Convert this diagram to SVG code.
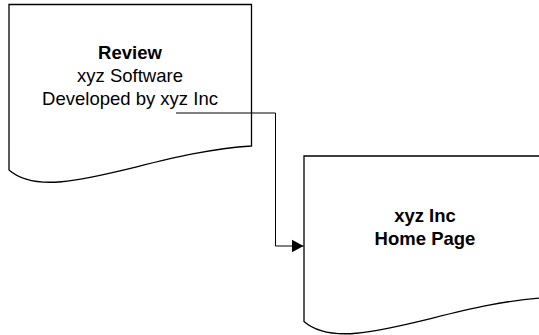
<svg xmlns="http://www.w3.org/2000/svg" width="539" height="335" viewBox="0 0 539 335">
<style>
.doc{fill:#fff;stroke:#000;stroke-width:1.3}
.t{font-family:"Liberation Sans",Arial,sans-serif;font-size:18.5px;fill:#000;text-anchor:middle}
.b{font-weight:bold}
.conn{fill:none;stroke:#000;stroke-width:1}
</style>
<defs>
<marker id="arr" markerWidth="13" markerHeight="14" refX="12" refY="7" orient="auto" markerUnits="userSpaceOnUse">
<path d="M0,0.5 L12,7 L0,13.5 Z" fill="#000"/>
</marker>
</defs>
<rect width="539" height="335" fill="#fff"/>
<g id="review">
<path class="doc" d="M9,4.5 H251.5 V146 C150,152 50,206 9,170 Z"/>
<text class="t b" x="130" y="59">Review</text>
<text class="t" x="130" y="82">xyz Software</text>
<text class="t" x="130" y="105">Developed by xyz Inc</text>
</g>
<g id="home">
<path class="doc" d="M304,156 H546.5 V297.5 C445,303.5 345,357.5 304,321.5 Z"/>
<text class="t b" x="425" y="222">xyz Inc</text>
<text class="t b" x="425" y="244.5">Home Page</text>
</g>
<g id="connectors">
<path class="conn" d="M176,113 H275.5 V246 H303.5" marker-end="url(#arr)"/>
</g>
</svg>
